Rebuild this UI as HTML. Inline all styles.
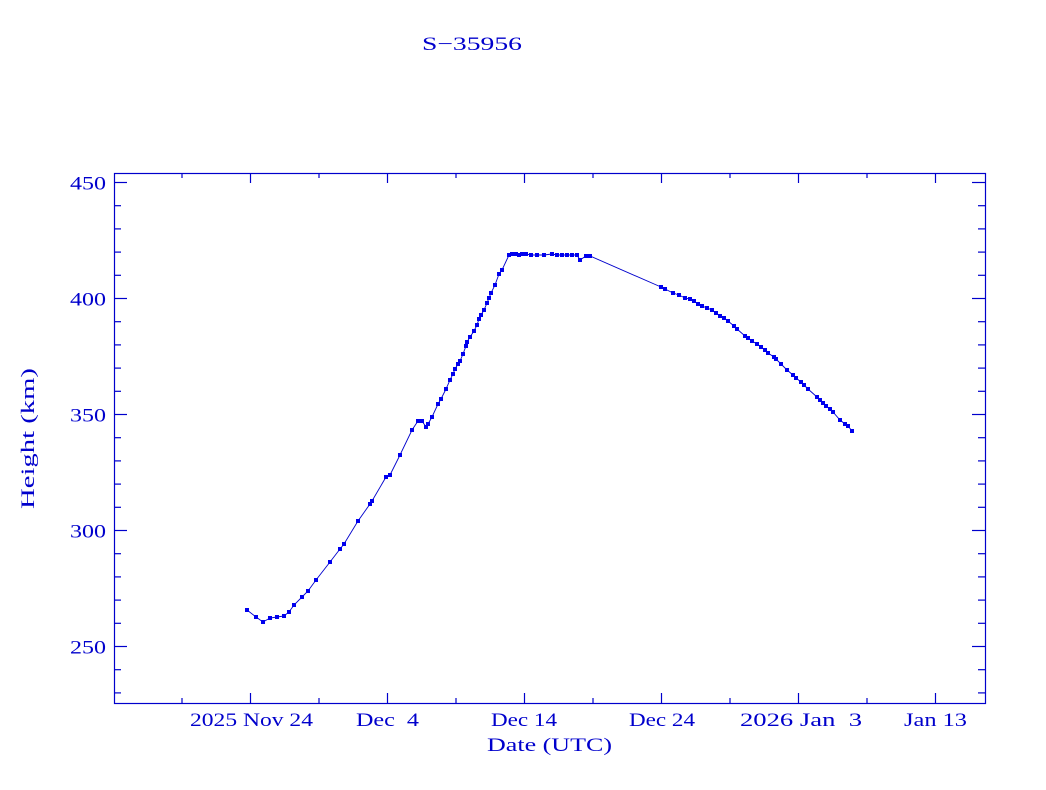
<!DOCTYPE html>
<html><head><meta charset="utf-8"><style>
html,body{margin:0;padding:0;background:#fff;}
svg{display:block;}
text{font-family:"Liberation Serif",serif;fill:#0000cc;font-size:19px;}
</style></head><body>
<svg width="1046" height="790" xmlns="http://www.w3.org/2000/svg">
<text x="422" y="50" textLength="100" lengthAdjust="spacingAndGlyphs" font-size="20">S−35956</text>
<rect x="114.5" y="173.5" width="871" height="530" fill="none" stroke="#0000cc" stroke-width="1.2"/>
<g stroke="#0000cc" stroke-width="1.2" id="ticks"></g>
<g id="labels"></g>
<text x="487" y="751" textLength="125" lengthAdjust="spacingAndGlyphs" font-size="20">Date (UTC)</text>
<text transform="translate(34,509) rotate(-90)" textLength="141" lengthAdjust="spacingAndGlyphs" font-size="20">Height (km)</text>
<polyline id="line" fill="none" stroke="#0000cc" stroke-width="0.9"/>
<g id="pts" fill="#0000ee"></g>
<script>
var NS="http://www.w3.org/2000/svg",t=document.getElementById("ticks"),lb=document.getElementById("labels");
function L(x1,y1,x2,y2){var l=document.createElementNS(NS,"line");l.setAttribute("x1",x1);l.setAttribute("y1",y1);l.setAttribute("x2",x2);l.setAttribute("y2",y2);t.appendChild(l);}
function T(x,y,s,w){var e=document.createElementNS(NS,"text");e.setAttribute("x",x);e.setAttribute("y",y);e.setAttribute("textLength",w);e.setAttribute("lengthAdjust","spacingAndGlyphs");e.setAttribute("xml:space","preserve");e.style.whiteSpace="pre";e.textContent=s;lb.appendChild(e);}
for(var v=230;v<=450;v+=10){var y=182+(450-v)*2.32+0.5;var len=(v%50==0)?13:7;L(114,y,114+len,y);L(985,y,985-len,y);if(v%50==0)T(70,y+7,String(v),36);}
for(var d=-15;d<=55;d+=5){var x=250+d*13.7+0.5;if(x<115||x>985)continue;var len=(d%10==0)?10:5;L(x,703,x,703-len);L(x,173,x,173+len);}
var xl=[["2025 Nov 24",190,123],["Dec  4",356,63],["Dec 14",491,66],["Dec 24",629,66],["2026 Jan  3",740,122],["Jan 13",904,63]];
xl.forEach(function(a){T(a[1],726,a[0],a[2]);});
var P=[[247,610],[256,617],[263,622],[270,618],[277,617],[284,616],[289,612],[294,605],[302,597],[308,591],[316,580],[330,562],[340,549],[344,544],[358,521],[370,504],[372,501],[386,477],[390,475],[400,455],[412,430],[418,421],[422,421],[426,427],[428,424],[432,417],[438,404],[441,399],[446,389],[450,380],[453,374],[455,369],[458,364],[460,361],[463,354],[466,346],[467,342],[470,337],[474,331],[477,325],[479,319],[481,315],[484,310],[487,303],[489,298],[491,293],[495,285],[499,274],[502,270],[509,255],[512,254],[516,254],[519,255],[522,254],[526,254],[531,255],[537,255],[544,255],[552,254],[557,255],[562,255],[567,255],[572,255],[577,255],[580,260],[586,256],[590,256],[661,287],[665,289],[673,293],[679,295],[685,298],[690,299],[694,301],[698,304],[702,306],[707,308],[712,310],[716,313],[720,316],[724,318],[728,321],[734,326],[737,329],[745,336],[748,338],[752,341],[757,344],[761,347],[765,350],[768,353],[774,357],[776,359],[781,364],[787,370],[793,375],[796,378],[801,382],[804,385],[808,389],[817,397],[820,400],[823,403],[826,406],[830,409],[833,412],[840,420],[845,424],[848,426],[852,431]];
document.getElementById("line").setAttribute("points",P.map(function(p){return p.join(",");}).join(" "));
var g=document.getElementById("pts");
P.forEach(function(p){var r=document.createElementNS(NS,"rect");r.setAttribute("x",p[0]-2);r.setAttribute("y",p[1]-2);r.setAttribute("width",4);r.setAttribute("height",4);g.appendChild(r);});
</script>
</svg>
</body></html>
